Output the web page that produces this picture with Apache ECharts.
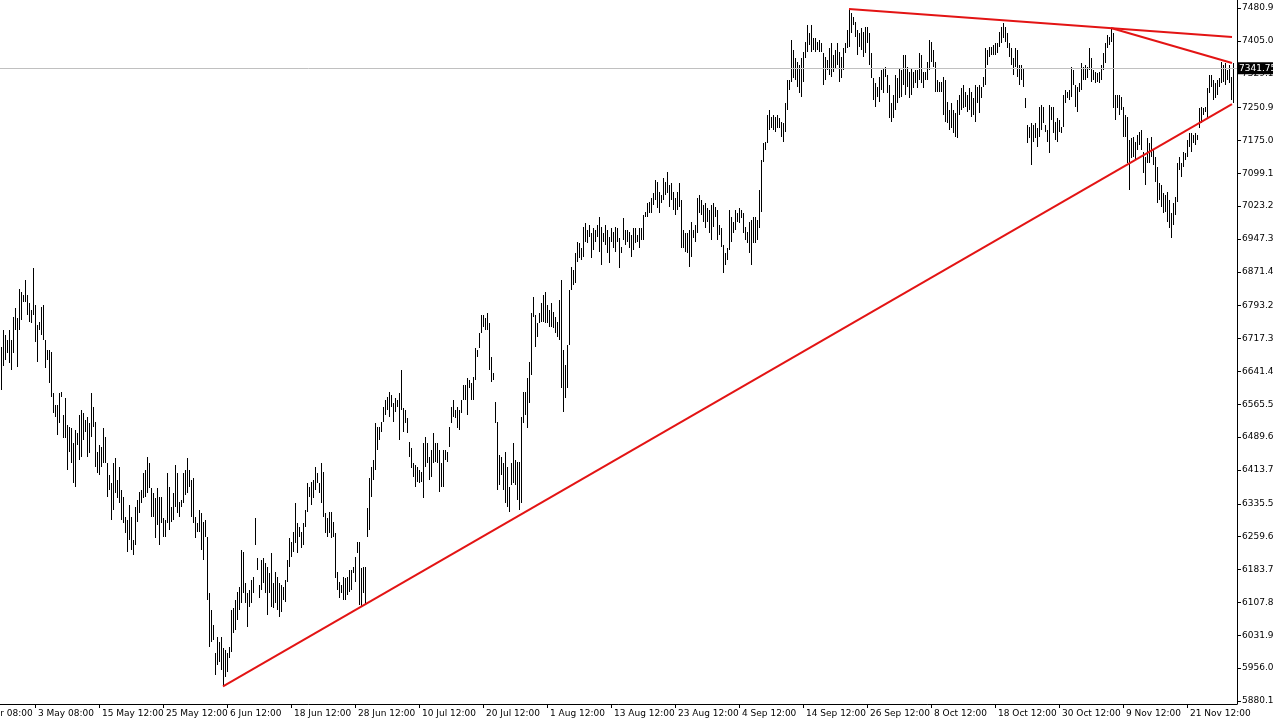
<!DOCTYPE html>
<html><head><meta charset="utf-8">
<script src="https://cdn.jsdelivr.net/npm/echarts@6/dist/echarts.min.js"></script>
<style>html,body{margin:0;padding:0;background:#fff;}#c{width:1273px;height:722px;}</style>
</head><body><div id="c"></div>
<script>
// Bar highs and lows, one entry per bar
const highs = [
6697,6737,6725,6714,6737,6714,6767,6788,6764,6831,
6824,6818,6852,6818,6799,6783,6880,6794,6748,6755,
6790,6794,6714,6690,6690,6686,6591,6563,6563,6591,
6593,6540,6580,6517,6513,6510,6476,6506,6499,6540,
6552,6545,6529,6536,6522,6591,6559,6524,6455,6471,
6466,6510,6490,6429,6402,6383,6429,6441,6390,6420,
6367,6351,6305,6298,6332,6305,6252,6328,6344,6362,
6367,6406,6413,6443,6429,6372,6360,6349,6372,6351,
6351,6302,6298,6406,6374,6328,6360,6425,6406,6339,
6344,6406,6413,6441,6413,6390,6395,6305,6291,6321,
6314,6293,6298,6259,6129,6090,6055,5991,6028,6016,
6028,6002,5997,5991,6004,6090,6095,6113,6131,6143,
6228,6224,6152,6129,6136,6159,6166,6302,6210,6148,
6205,6210,6198,6189,6175,6222,6152,6178,6166,6152,
6148,6143,6159,6205,6256,6247,6270,6337,6291,6282,
6270,6291,6321,6383,6374,6386,6390,6420,6406,6383,
6429,6409,6314,6302,6316,6316,6293,6268,6178,6155,
6148,6166,6164,6166,6182,6182,6189,6212,6247,6247,
6187,6189,6189,6326,6395,6420,6436,6522,6513,6513,
6524,6559,6575,6582,6593,6587,6568,6580,6575,6591,
6644,6557,6552,6533,6478,6464,6429,6425,6420,6413,
6409,6476,6490,6476,6443,6459,6499,6476,6476,6459,
6429,6459,6459,6455,6513,6559,6575,6552,6559,6552,
6575,6610,6610,6626,6621,6614,6628,6695,6690,6730,
6771,6771,6764,6776,6753,6674,6637,6570,6524,6448,
6443,6429,6455,6420,6374,6429,6476,6436,6432,6432,
6536,6593,6593,6626,6663,6776,6813,6771,6753,6776,
6799,6818,6824,6794,6783,6799,6778,6767,6755,6806,
6852,6690,6656,6702,6829,6882,6875,6915,6940,6938,
6926,6975,6984,6968,6979,6961,6972,6968,6979,6998,
6975,6961,6979,6968,6952,6972,6963,6975,6972,6949,
6928,6995,6968,6968,6963,6956,6972,6972,6956,6972,
6972,7002,7009,7030,7032,7042,7053,7083,7079,7055,
7049,7088,7079,7102,7072,7076,7055,7042,7055,7076,
7037,6968,6961,6961,6968,6986,6968,6979,7042,7049,
7037,7025,7030,7019,7014,7025,7030,7021,7014,6979,
6972,6933,6915,6926,7014,6998,6986,7014,7007,7019,
7014,7007,6975,6963,6986,6991,6998,6998,6991,7060,
7129,7169,7171,7233,7245,7229,7233,7229,7233,7226,
7217,7215,7261,7314,7314,7407,7383,7365,7356,7349,
7365,7379,7402,7441,7423,7441,7411,7411,7402,7407,
7400,7377,7367,7360,7388,7400,7372,7383,7400,7379,
7367,7388,7400,7430,7478,7469,7460,7448,7430,7423,
7434,7425,7437,7437,7423,7377,7319,7307,7298,7321,
7337,7342,7344,7326,7303,7261,7280,7326,7319,7342,
7337,7372,7372,7344,7333,7342,7333,7337,7337,7377,
7372,7333,7333,7356,7407,7402,7383,7356,7314,7310,
7310,7321,7314,7263,7245,7261,7245,7238,7268,7280,
7296,7303,7286,7280,7296,7286,7273,7303,7298,7303,
7298,7321,7388,7383,7390,7390,7395,7400,7400,7425,
7437,7446,7437,7423,7400,7388,7365,7388,7383,7349,
7349,7342,7273,7210,7206,7215,7210,7215,7203,7252,
7256,7252,7210,7199,7256,7252,7252,7217,7226,7222,
7206,7280,7291,7286,7291,7344,7337,7303,7298,7307,
7353,7344,7349,7344,7388,7365,7337,7333,7330,7333,
7349,7377,7400,7418,7414,7434,7423,7280,7280,7280,
7275,7252,7233,7229,7176,7180,7183,7171,7187,7194,
7199,7148,7136,7180,7169,7183,7152,7136,7113,7076,
7072,7053,7049,7055,7037,7007,7030,7044,7122,7136,
7122,7148,7146,7176,7192,7192,7187,7192,7187,7250,
7252,7250,7252,7296,7326,7326,7314,7307,7314,7319,
7356,7349,7353,7337,7349,7321,7353
];
const lows = [
6598,6654,6667,6684,6660,6644,6684,6737,6651,6737,
6760,6801,6801,6771,6755,6753,6771,6709,6663,6737,
6725,6714,6649,6667,6614,6582,6545,6536,6494,6522,
6582,6487,6487,6413,6455,6429,6383,6374,6471,6436,
6443,6483,6501,6443,6453,6490,6513,6420,6406,6402,
6420,6429,6429,6351,6367,6298,6321,6360,6349,6337,
6298,6291,6268,6224,6252,6228,6217,6240,6293,6314,
6337,6349,6351,6360,6372,6305,6305,6256,6286,6240,
6291,6259,6259,6291,6275,6293,6298,6328,6314,6305,
6328,6337,6356,6360,6374,6305,6291,6256,6270,6270,
6228,6205,6259,6113,6004,6016,6021,5940,5963,5970,
5951,5914,5935,5947,5979,5993,6037,6044,6067,6090,
6106,6129,6106,6051,6097,6106,6129,6240,6182,6118,
6136,6152,6129,6078,6129,6097,6095,6106,6090,6074,
6085,6113,6108,6155,6189,6212,6224,6245,6222,6259,
6233,6240,6282,6316,6351,6332,6349,6367,6383,6360,
6337,6305,6268,6259,6268,6256,6259,6164,6136,6118,
6129,6113,6113,6125,6131,6136,6175,6155,6222,6101,
6097,6129,6101,6259,6275,6351,6390,6413,6459,6483,
6501,6524,6540,6552,6536,6559,6524,6547,6559,6483,
6552,6501,6522,6499,6443,6418,6397,6374,6386,6383,
6386,6349,6420,6429,6390,6397,6429,6432,6429,6362,
6374,6374,6436,6432,6466,6522,6536,6533,6510,6506,
6545,6575,6575,6540,6603,6575,6575,6621,6674,6695,
6730,6744,6737,6737,6644,6617,6621,6522,6367,6379,
6402,6367,6337,6328,6316,6379,6383,6379,6344,6321,
6337,6522,6540,6510,6568,6633,6767,6697,6721,6753,
6755,6755,6753,6753,6744,6744,6741,6730,6721,6714,
6603,6547,6580,6603,6702,6829,6841,6845,6894,6903,
6898,6905,6940,6938,6952,6903,6921,6940,6952,6917,
6887,6940,6933,6915,6891,6940,6926,6917,6940,6880,
6915,6945,6933,6940,6926,6905,6921,6938,6940,6926,
6945,6945,6998,6998,7007,7007,7025,7037,7019,7007,
7030,7037,7049,7053,7021,7037,7014,7002,7014,7021,
6926,6926,6917,6915,6882,6905,6949,6940,6961,7007,
7002,6986,6972,6986,6961,6945,6975,6998,6945,6956,
6928,6868,6887,6898,6921,6940,6961,6968,6986,6984,
6995,6961,6945,6938,6915,6887,6938,6938,6945,6972,
7009,7125,7152,7169,7199,7203,7199,7194,7203,7203,
7183,7171,7194,7245,7291,7310,7319,7314,7298,7284,
7275,7310,7365,7379,7395,7379,7383,7379,7383,7379,
7379,7303,7314,7337,7326,7321,7333,7342,7349,7310,
7319,7337,7377,7388,7390,7423,7441,7414,7372,7390,
7383,7367,7377,7400,7349,7319,7268,7252,7275,7263,
7291,7284,7321,7284,7226,7217,7226,7245,7261,7273,
7275,7303,7280,7298,7273,7280,7296,7307,7296,7314,
7307,7296,7314,7314,7337,7356,7344,7286,7286,7286,
7286,7233,7217,7215,7199,7203,7192,7183,7180,7233,
7245,7250,7252,7240,7245,7229,7233,7217,7261,7238,
7273,7298,7303,7349,7367,7372,7372,7372,7377,7390,
7400,7411,7402,7388,7367,7349,7326,7344,7321,7303,
7314,7298,7250,7169,7180,7118,7171,7180,7159,7183,
7199,7215,7194,7171,7146,7222,7192,7176,7171,7194,
7192,7206,7261,7273,7268,7275,7303,7252,7240,7286,
7291,7314,7314,7319,7337,7310,7314,7307,7310,7307,
7314,7337,7353,7388,7395,7402,7250,7222,7250,7233,
7245,7183,7183,7122,7060,7134,7136,7129,7152,7164,
7152,7099,7072,7122,7122,7136,7118,7079,7030,7037,
7021,7007,7009,6986,6972,6949,6979,7002,7032,7106,
7090,7113,7129,7136,7159,7148,7169,7164,7176,7203,
7215,7233,7240,7226,7284,7298,7268,7273,7280,7298,
7307,7310,7303,7314,7307,7268,7261
];
// Time scale: bar index of each time label, and its text
const timeTickIndex = [-15,17,49,81,113,145,177,209,241,273,305,337,369,401,433,465,497,529,561,593];
const timeTickLabels = ["23 Apr 08:00","3 May 08:00","15 May 12:00","25 May 12:00","6 Jun 12:00","18 Jun 12:00","28 Jun 12:00","10 Jul 12:00","20 Jul 12:00","1 Aug 12:00","13 Aug 12:00","23 Aug 12:00","4 Sep 12:00","14 Sep 12:00","26 Sep 12:00","8 Oct 12:00","18 Oct 12:00","30 Oct 12:00","9 Nov 12:00","21 Nov 12:00"];
// Price scale labels
const priceTicks = [7480.90,7405.00,7329.10,7250.90,7175.00,7099.10,7023.20,6947.30,6871.40,6793.20,6717.30,6641.40,6565.50,6489.60,6413.70,6335.50,6259.60,6183.70,6107.80,6031.90,5956.00,5880.10];
const lastPrice = 7341.75;
// Trend lines: [bar index, price]
const supportLine = [[111, 5914], [615.5, 7259]];
const resistanceLine = [[424, 7478.6], [615.5, 7414]];
const resistanceLine2 = [[555, 7434.7], [615.5, 7354]];

const FONT = 'DejaVu Sans';
const RED = '#e31414';
const barData = highs.map((h, i) => [i, h, lows[i]]);

const chart = echarts.init(document.getElementById('c'), null, {renderer: 'canvas'});
chart.setOption({
  animation: false,
  backgroundColor: '#fff',
  grid: {left: -32, right: 36, top: 0, bottom: 18, containLabel: false, outerBoundsMode: 'none'},
  xAxis: {
    type: 'value', min: -16.5, max: 618, position: 'bottom',
    axisLine: {show: true, onZero: false, lineStyle: {color: '#000', width: 1}},
    axisTick: {show: true, customValues: timeTickIndex, length: 4, lineStyle: {color: '#000'}},
    axisLabel: {
      show: true, customValues: timeTickIndex,
      formatter: v => timeTickLabels[timeTickIndex.indexOf(v)] || '',
      align: 'left', padding: [0, 0, 0, 3], margin: 5, hideOverlap: false,
      color: '#000', fontSize: 9, fontFamily: FONT
    },
    splitLine: {show: false}
  },
  yAxis: {
    type: 'value', position: 'right', min: 5873.2, max: 7499.4, scale: true,
    axisLine: {show: true, onZero: false, lineStyle: {color: '#000', width: 1}},
    axisTick: {show: true, customValues: priceTicks, length: 4, lineStyle: {color: '#000'}},
    axisLabel: {
      show: true, customValues: priceTicks, hideOverlap: false,
      formatter: v => Number(v).toFixed(2), margin: 5,
      color: '#000', fontSize: 9, fontFamily: FONT
    },
    splitLine: {show: false}
  },
  series: [
    {
      type: 'custom', name: 'bars', data: barData, silent: true,
      encode: {x: 0, y: [1, 2]},
      renderItem: (params, api) => {
        const i = api.value(0);
        const top = api.coord([i, api.value(1)]);
        const bot = api.coord([i, api.value(2)]);
        const y0 = Math.round(top[1]);
        const y1 = Math.round(bot[1]);
        return {type: 'rect', shape: {x: Math.round(top[0]), y: y0, width: 1, height: Math.max(1, y1 - y0)}, style: {fill: '#000'}};
      }
    },
    {
      type: 'line', data: supportLine, symbol: 'none', silent: true, z: 5,
      lineStyle: {color: RED, width: 2},
      markLine: {
        silent: true, symbol: ['none', 'none'], animation: false,
        lineStyle: {color: '#c0c0c0', width: 1, type: 'solid'},
        data: [{yAxis: lastPrice}],
        label: {
          show: true, position: 'end', formatter: lastPrice.toFixed(2),
          color: '#fff', backgroundColor: '#000', padding: [2, 2, 1, 1], distance: 1,
          fontSize: 9, fontFamily: FONT
        }
      }
    },
    {type: 'line', data: resistanceLine, symbol: 'none', silent: true, z: 5, lineStyle: {color: RED, width: 2}},
    {type: 'line', data: resistanceLine2, symbol: 'none', silent: true, z: 5, lineStyle: {color: RED, width: 2}}
  ]
});
</script>
</body></html>
